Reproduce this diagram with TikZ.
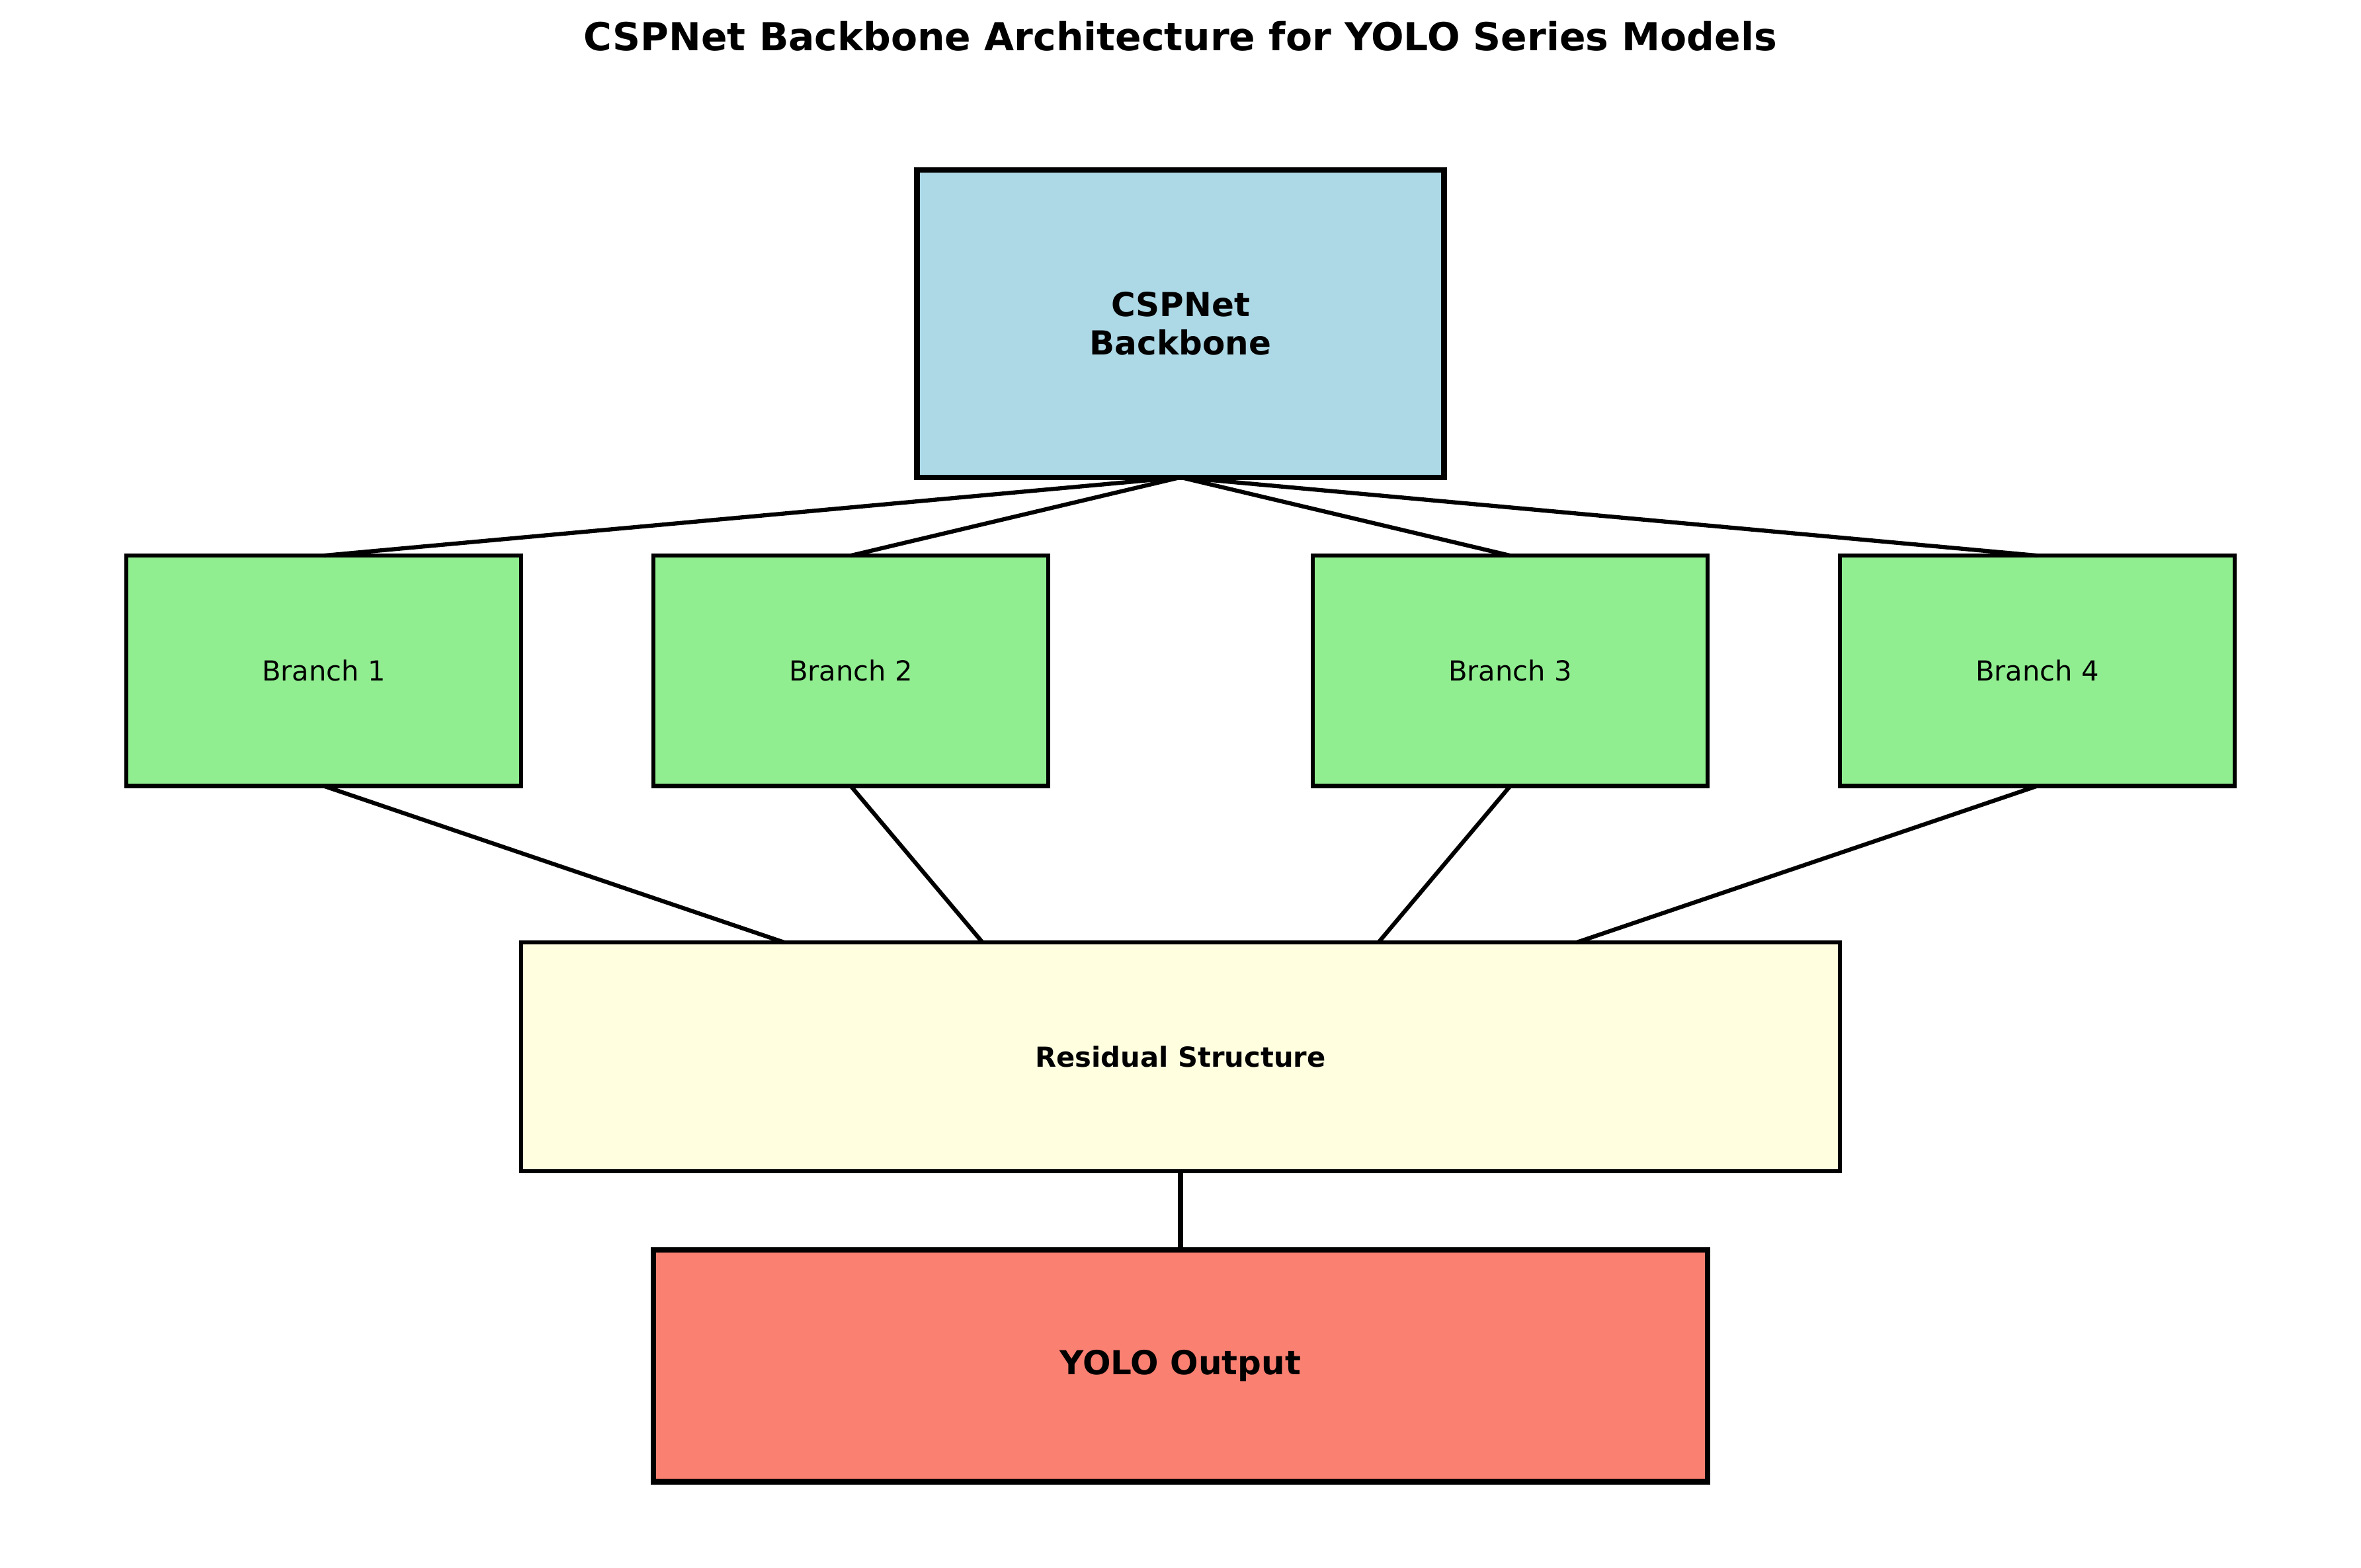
\documentclass[tikz,border=0pt]{standalone}
\usepackage{fontspec}
\setmainfont{DejaVu Sans}
\usetikzlibrary{calc}

% fill colours of the blocks
\definecolor{cspblue}{HTML}{ADD8E6}
\definecolor{branchgreen}{HTML}{90EE90}
\definecolor{resyellow}{HTML}{FFFFE0}
\definecolor{outsalmon}{HTML}{FA8072}

\def\u{0.546429pt}

\tikzset{
  block/.style={draw=black, rectangle, inner sep=0pt, outer sep=0pt, align=center, text=black},
  mainblock/.style={block, line width=2pt, font=\fontsize{12}{14}\selectfont\bfseries},
  subblock/.style={block, line width=1.5pt, font=\fontsize{10}{12}\selectfont},
  branchbox/.style={subblock, fill=branchgreen, minimum width=262*\u, minimum height=153*\u},
  link/.style={draw=black, line width=1.5pt},
  thicklink/.style={draw=black, line width=2pt},
}

\begin{document}
\begin{tikzpicture}[x=\u, y=-\u]
\useasboundingbox[fill=white] (0,0) rectangle (1568,1041);

% title
\node[font=\fontsize{14}{16.8}\selectfont\bfseries] (title) at (784,24) {CSPNet Backbone Architecture for YOLO Series Models};

% backbone
\node[mainblock, fill=cspblue, minimum width=350*\u, minimum height=204*\u] (cb) at (784,215)
  {CSPNet\\Backbone};

% branches
\node[branchbox] (b1) at (215,445.5) {Branch 1};
\node[branchbox] (b2) at (565,445.5) {Branch 2};
\node[branchbox] (b3) at (1003,445.5) {Branch 3};
\node[branchbox] (b4) at (1353,445.5) {Branch 4};

% residual structure
\node[subblock, fill=resyellow, minimum width=876*\u, minimum height=152*\u, font=\fontsize{10}{12}\selectfont\bfseries] (res) at (784,702)
  {Residual Structure};

% output
\node[mainblock, fill=outsalmon, minimum width=700*\u, minimum height=154*\u] (out) at (784,907)
  {YOLO Output};

% entry points on top of the residual block
\coordinate (r1) at ($(res.north west)!0.2!(res.north east)$);
\coordinate (r2) at ($(res.north west)!0.35!(res.north east)$);
\coordinate (r3) at ($(res.north west)!0.65!(res.north east)$);
\coordinate (r4) at ($(res.north west)!0.8!(res.north east)$);

% connectors
\draw[link] (cb.south) -- (b1.north);
\draw[link] (cb.south) -- (b2.north);
\draw[link] (cb.south) -- (b3.north);
\draw[link] (cb.south) -- (b4.north);
\draw[link] (b1.south) -- (r1);
\draw[link] (b2.south) -- (r2);
\draw[link] (b3.south) -- (r3);
\draw[link] (b4.south) -- (r4);
\draw[thicklink] (res.south) -- (out.north);
\end{tikzpicture}
\end{document}
